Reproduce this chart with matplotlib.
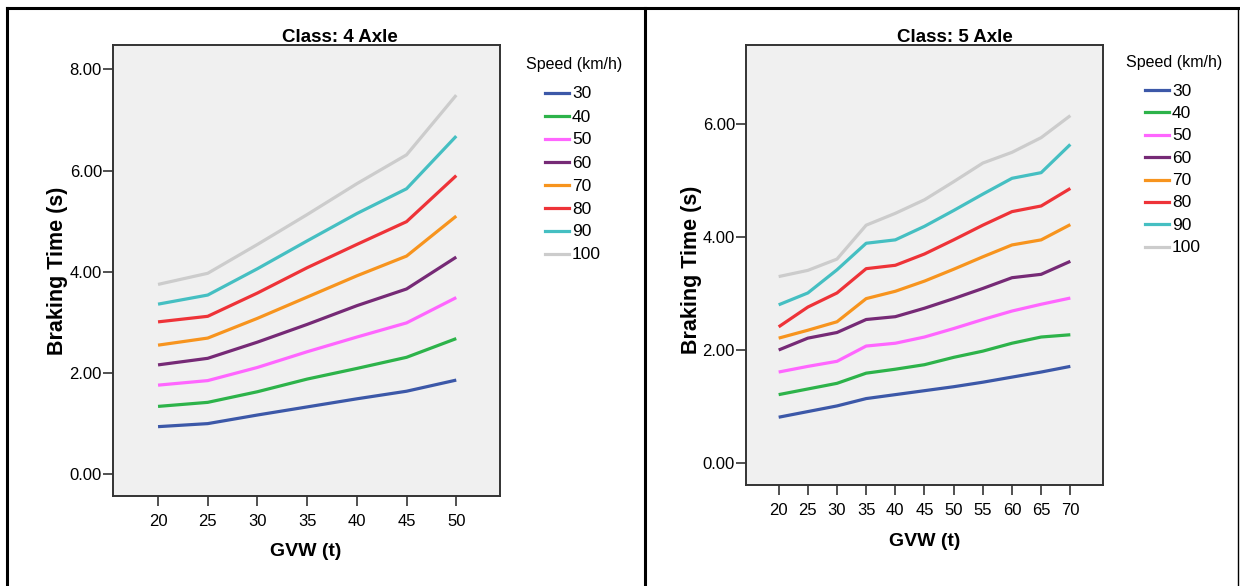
import matplotlib
matplotlib.use("Agg")
import matplotlib.pyplot as plt
from matplotlib.lines import Line2D

# velocidades (km/h) y colores de las series
speeds = ["30", "40", "50", "60", "70", "80", "90", "100"]
colors = ["#3c58a8", "#2db34a", "#ff66ff", "#762a76", "#f7941e", "#ee3338", "#45bfc2", "#cccccc"]

# Clase 4 ejes
gvw_4 = [20, 25, 30, 35, 40, 45, 50]
time_4 = [
    [0.94, 1.00, 1.17, 1.33, 1.49, 1.64, 1.86],
    [1.34, 1.42, 1.63, 1.88, 2.09, 2.31, 2.68],
    [1.76, 1.85, 2.11, 2.42, 2.71, 2.99, 3.49],
    [2.16, 2.29, 2.61, 2.96, 3.33, 3.66, 4.29],
    [2.55, 2.69, 3.08, 3.50, 3.92, 4.31, 5.10],
    [3.01, 3.12, 3.58, 4.08, 4.54, 4.99, 5.90],
    [3.36, 3.54, 4.06, 4.61, 5.15, 5.64, 6.68],
    [3.75, 3.97, 4.54, 5.13, 5.74, 6.31, 7.49],
]

# Clase 5 ejes
gvw_5 = [20, 25, 30, 35, 40, 45, 50, 55, 60, 65, 70]
time_5 = [
    [0.81, 0.91, 1.01, 1.14, 1.21, 1.28, 1.35, 1.43, 1.52, 1.61, 1.71],
    [1.21, 1.31, 1.41, 1.59, 1.66, 1.74, 1.87, 1.98, 2.12, 2.23, 2.27],
    [1.61, 1.71, 1.80, 2.07, 2.12, 2.23, 2.38, 2.54, 2.69, 2.81, 2.92],
    [2.00, 2.21, 2.31, 2.54, 2.59, 2.74, 2.91, 3.09, 3.28, 3.34, 3.57],
    [2.21, 2.35, 2.50, 2.91, 3.04, 3.22, 3.43, 3.65, 3.86, 3.95, 4.22],
    [2.41, 2.76, 3.01, 3.44, 3.50, 3.70, 3.95, 4.21, 4.45, 4.55, 4.86],
    [2.80, 3.01, 3.42, 3.89, 3.95, 4.19, 4.47, 4.76, 5.04, 5.14, 5.64],
    [3.30, 3.41, 3.61, 4.21, 4.42, 4.66, 4.98, 5.31, 5.50, 5.76, 6.15],
]

W, H = 1240, 586
fam = ["Liberation Sans", "DejaVu Sans"]


def fx(px):
    return px / W


def fy(py):
    return 1 - py / H


fig = plt.figure(figsize=(W / 100, H / 100), dpi=100)

# marcos de los paneles
for xs, ys, lw in [((7, 1240), (8, 8), 2.2), ((7, 7), (8, 586), 2.2),
                   ((645, 645), (8, 586), 2.2), ((1238, 1238), (8, 586), 1.0)]:
    fig.add_artist(Line2D([fx(x) for x in xs], [fy(y) for y in ys], color="black", lw=lw))


def panel(box, gvw, data, xlim, ylim, yticks, title, title_xy, xlabel_xy, ylabel_xy, leg_x, leg_y, leg_dy):
    l, t, r, b = box
    ax = fig.add_axes([fx(l), fy(b), fx(r - l), (b - t) / H])
    ax.set_facecolor("#f0f0f0")
    for i, serie in enumerate(data):
        ax.plot(gvw, serie, color=colors[i], lw=2.3, solid_capstyle="butt")
    ax.set_xlim(*xlim)
    ax.set_ylim(*ylim)
    ax.set_xticks(gvw)
    ax.set_yticks(yticks)
    ax.set_yticklabels(["%.2f" % v for v in yticks])
    for s in ax.spines.values():
        s.set_color("#333333")
        s.set_linewidth(1.4)
    ax.tick_params(length=7, width=1.1, color="#222222", labelsize=12, pad=1)
    for lab in ax.get_xticklabels() + ax.get_yticklabels():
        lab.set_family(fam)
    ax.tick_params(axis="x", pad=6)

    fig.text(fx(title_xy[0]), fy(title_xy[1]), title, ha="center", va="center",
             fontsize=13.5, fontweight="bold", family=fam)
    fig.text(fx(xlabel_xy[0]), fy(xlabel_xy[1]), "GVW (t)", ha="center", va="center",
             fontsize=14, fontweight="bold", family=fam)
    fig.text(fx(ylabel_xy[0]), fy(ylabel_xy[1]), "Braking Time (s)", ha="center", va="center",
             rotation=90, fontsize=15.5, fontweight="bold", family=fam)

    # leyenda
    fig.text(fx(leg_x - 19), fy(leg_y - 28), "Speed (km/h)", ha="left", va="center",
             fontsize=11.5, family=fam)
    for i, sp in enumerate(speeds):
        y = leg_y + i * leg_dy
        fig.add_artist(Line2D([fx(leg_x), fx(leg_x + 24)], [fy(y), fy(y)], color=colors[i], lw=2.3))
        fig.text(fx(leg_x + 27), fy(y + 1), sp, ha="left", va="center", fontsize=12.5, family=fam)
    return ax


panel((113, 45, 500, 496), gvw_4, time_4, (15.47, 54.4), (-0.43, 8.48), [0, 2, 4, 6, 8],
      "Class: 4 Axle", (340, 38), (306, 551), (58, 271), 545, 93, 23.0)
panel((746, 45, 1103, 485), gvw_5, time_5, (14.4, 75.6), (-0.39, 7.4), [0, 2, 4, 6],
      "Class: 5 Axle", (955, 37), (925, 541), (692, 270), 1145, 90, 22.4)

fig.savefig("out.png", dpi=100)
